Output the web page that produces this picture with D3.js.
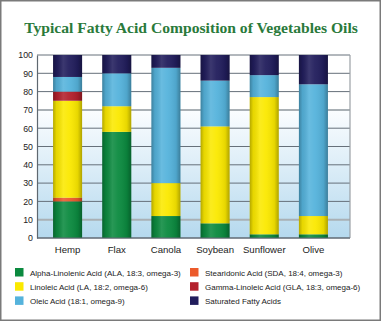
<!DOCTYPE html>
<html><head><meta charset="utf-8">
<script src="https://cdn.jsdelivr.net/npm/d3@7"></script>
<style>html,body{margin:0;padding:0;background:#fff;}svg{display:block;}</style>
</head><body>
<svg id="c" width="381" height="323"></svg>
<script>
const oils = ["Hemp","Flax","Canola","Soybean","Sunflower","Olive"];
const seriesNames = [
  "Alpha-Linolenic Acid (ALA, 18:3, omega-3)",
  "Stearidonic Acid (SDA, 18:4, omega-3)",
  "Linoleic Acid (LA, 18:2, omega-6)",
  "Gamma-Linoleic Acid (GLA, 18:3, omega-6)",
  "Oleic Acid (18:1, omega-9)",
  "Saturated Fatty Acids"
];
const ala = [20, 58, 12, 8, 2, 2];
const sda = [2, 0, 0, 0, 0, 0];
const la  = [53, 14, 18, 53, 75, 10];
const gla = [5, 0, 0, 0, 0, 0];
const oleic = [8, 18, 63, 25, 12, 72];
const sat = [12, 10, 7, 14, 11, 16];
const yTicks = [0,10,20,30,40,50,60,70,80,90,100];
const colors = ["#0b8a3f","#ec5a2b","#fbe900","#b3202c","#55b3dc","#211d5c"];
const legendOrder = [0,1,2,3,4,5];

const seriesVals = [ala, sda, la, gla, oleic, sat];
const svg = d3.select("#c");
const W = 381, H = 323;

svg.append("rect").attr("x",0.75).attr("y",0.75).attr("width",W-1.5).attr("height",H-3.5)
  .attr("fill","#fff").attr("stroke","#7a7a7a").attr("stroke-width",1.5);

const title = svg.append("text").attr("x",191).attr("y",33).attr("text-anchor","middle")
  .attr("font-family","'Liberation Serif', 'Times New Roman', serif").attr("font-weight","bold")
  .attr("font-size",16).attr("fill","#2a7a3b")
  .text("Typical Fatty Acid Composition of Vegetables Oils");
const tw = title.node().getComputedTextLength();
if (tw > 334) title.attr("font-size", 16*334/tw);

const plotL = 37, plotR = 350, plotT = 55, plotB = 238;
const y = d3.scaleLinear().domain([0,100]).range([plotB, plotT]);
const x = d3.scaleBand().domain(oils).range([43, 338]).paddingInner(0.41).paddingOuter(0.205);

const defs = svg.append("defs");
const bg = defs.append("linearGradient").attr("id","bg").attr("x1",0).attr("y1",0).attr("x2",0).attr("y2",1);
bg.append("stop").attr("offset","0").attr("stop-color","#fbfdff");
bg.append("stop").attr("offset","1").attr("stop-color","#b5d9ee");
const sh = defs.append("linearGradient").attr("id","sh").attr("x1",0).attr("y1",0).attr("x2",1).attr("y2",0);
[[0,"#000",0.28],[0.12,"#000",0.08],[0.35,"#fff",0.12],[0.55,"#fff",0.05],[0.85,"#000",0.08],[1,"#000",0.3]]
  .forEach(s=>sh.append("stop").attr("offset",s[0]).attr("stop-color",s[1]).attr("stop-opacity",s[2]));

svg.append("rect").attr("x",plotL).attr("y",y(70)).attr("width",plotR-plotL).attr("height",y(0)-y(70)).attr("fill","url(#bg)");

svg.append("g").selectAll("line").data(yTicks).join("line")
  .attr("x1",plotL).attr("x2",plotR).attr("y1",d=>y(d)).attr("y2",d=>y(d))
  .attr("stroke",d=>(d===70||d===10)?"#a9b0b5":"#66707a")
  .attr("stroke-width",d=>(d===70||d===10)?2:1);
svg.append("line").attr("x1",plotR).attr("x2",plotR).attr("y1",plotT).attr("y2",plotB).attr("stroke","#9aa0a5").attr("stroke-width",1.2);

const rows = oils.map((o,i)=>{const r={oil:o}; seriesVals.forEach((s,k)=>r["s"+k]=s[i]); return r;});
const stack = d3.stack().keys(seriesVals.map((s,k)=>"s"+k))(rows);
const g = svg.append("g");
stack.forEach((layer,k)=>{
  g.append("g").attr("fill",colors[k]).selectAll("rect").data(layer.filter(d=>d[1]-d[0]>0)).join("rect")
    .attr("x",d=>x(d.data.oil)).attr("width",x.bandwidth())
    .attr("y",d=>y(d[1])).attr("height",d=>y(d[0])-y(d[1]));
});
g.append("g").selectAll("rect").data(oils).join("rect")
  .attr("x",d=>x(d)).attr("width",x.bandwidth()).attr("y",y(100)).attr("height",y(0)-y(100))
  .attr("fill","url(#sh)");

const ya = svg.append("g").attr("transform",`translate(${plotL},0)`)
  .call(d3.axisLeft(y).tickValues(yTicks).tickSize(0).tickPadding(4));
ya.select(".domain").attr("stroke","#5f6870").attr("stroke-width",1.2);
ya.selectAll("text").attr("font-family","'Liberation Sans', Arial, sans-serif").attr("font-size",8.8).attr("fill","#222");
const xa = svg.append("g").attr("transform",`translate(0,${plotB})`)
  .call(d3.axisBottom(x).tickSize(0).tickPadding(8));
xa.select(".domain").attr("d",`M${plotL},0H${plotR}`).attr("stroke","#5f6870").attr("stroke-width",1.2);
xa.selectAll("text").attr("font-family","'Liberation Sans', Arial, sans-serif").attr("font-size",9.6).attr("fill","#222");

const lg = svg.append("g");
legendOrder.forEach((k,i)=>{
  const col = i%2, row = Math.floor(i/2);
  const lx = col===0 ? 15 : 190, ly = 268 + row*14.2;
  lg.append("rect").attr("x",lx).attr("y",ly).attr("width",8.5).attr("height",8.5).attr("fill",colors[k]);
  lg.append("text").attr("x",lx+15).attr("y",ly+7.5)
    .attr("font-family","'Liberation Sans', Arial, sans-serif").attr("font-size",8).attr("fill","#222")
    .text(seriesNames[k]);
});
</script>
</body></html>
